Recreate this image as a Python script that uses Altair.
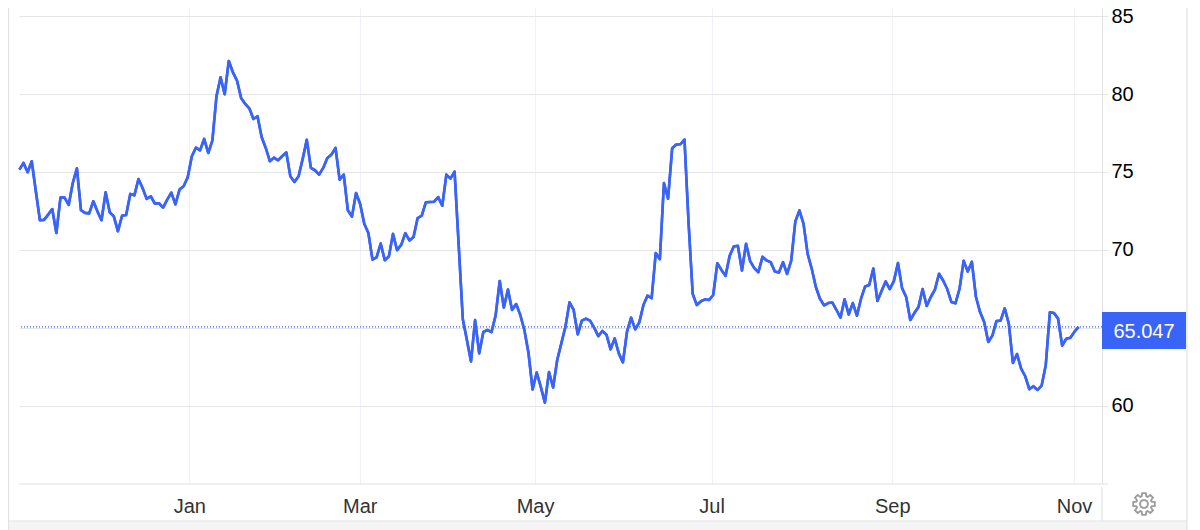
import json
import math
import altair as alt
import pandas as pd

seg_a = [75.15,75.58,74.98,75.69,73.76,71.90,71.92,72.26,72.62,71.08,73.35,73.35,72.88,74.29,75.24,72.54,72.37,72.34,73.12,72.47,
71.90,73.69,72.41,72.15,71.19,72.19,72.24,73.59,73.50,74.55,73.97,73.27,73.44,72.97,72.99,72.71,73.22,73.67,72.92,73.87,
74.08,74.66,76.01,76.56,76.39,77.12,76.22,77.01,79.86,81.08,79.99,82.13,81.40,80.87,79.75,79.37,79.09,78.40,78.58,77.25,
76.54,75.69,75.92,75.75,76.01,76.26,74.72,74.36,74.72,75.84,77.06,75.26,75.11,74.83,75.26,75.90,76.11,76.54,74.51,74.83,
72.54,72.13,73.65,72.94,71.68,71.08,69.37,69.52,70.40,69.33,69.58,71.02,69.97]
seg_b = [70.32,71.07,70.60,70.82,72.04,72.19,73.05,73.07,73.09,73.39,72.83,74.83,74.57,75.02,70.32,65.56,64.21,62.83,65.49,63.35,
64.72,64.85,64.72,65.79,68.00,66.29,67.45,66.14,66.52,65.82,64.85,63.39,61.03,62.12,61.20,60.19,62.15,61.16,62.92,63.99,
65.06,66.63,66.14,64.57,65.45,65.58,65.45,65.00,64.46,64.79,64.55,63.61,64.31,63.35,62.77,64.74,65.64,64.89,65.34,66.46,
67.06,66.89,69.79,69.40,74.29,73.28,76.52,76.76,76.78,77.08,71.72,67.17,66.46,66.70,66.82,66.78,67.10,69.14,68.71,68.33,
69.61,70.21,70.26,68.67,70.39,69.27,68.82,68.56,69.55,69.31,69.21,68.61,68.54,69.21,68.45,69.31,71.82,72.53]
seg_c = [71.67,69.74,68.78,67.61,66.86,66.43,66.58,66.62,66.15,65.64,66.82,65.85,66.58,65.77,66.86,67.65,67.74,68.80,66.71,67.35,
67.97,67.48,67.99,69.15,67.54,66.97,65.49,65.94,66.32,67.48,66.39,66.97,67.44,68.46,68.03,67.48,66.65,66.56,67.50,69.29,
68.61,69.23,66.97,66.00,65.36,64.08,64.49,65.43,65.45,66.24,65.26,62.74,63.31,62.37,61.88,61.05,61.24,61.00,61.28,62.59,
65.98,65.94,65.58,63.85,64.29,64.36,64.74,65.047]
values = seg_a + seg_b + seg_c
month_ticks = [41.4, 82.9, 125.6, 168.6, 212.6, 256.9]
month_names = ["Jan", "Mar", "May", "Jul", "Sep", "Nov"]
y_ticks = [60, 65, 70, 75, 80, 85]
last_label = "65.047"

BLUE = "#3a63f7"
GRID = "#e6e6e6"
FRAME = "#e2e2e2"
FONT = "Liberation Sans"

df = pd.DataFrame({"i": list(range(len(values))), "v": values})
one = pd.DataFrame({"a": [0]})

# gear icon outline in unit coordinates
pts = []
teeth = 8
for k in range(teeth):
    a = 2 * math.pi * k / teeth
    for da, r in [(-0.30, 0.72), (-0.17, 1.0), (0.17, 1.0), (0.30, 0.72)]:
        pts.append((r * math.cos(a + da), r * math.sin(a + da)))
gear = "M" + "L".join(f"{x:.3f},{y:.3f}" for x, y in pts) + "Z"
circ = [(0.36 * math.cos(2 * math.pi * k / 24), 0.36 * math.sin(2 * math.pi * k / 24)) for k in range(24)]
gear += "M" + "L".join(f"{x:.3f},{y:.3f}" for x, y in circ) + "Z"

x_scale = alt.Scale(domain=[-0.1, 263.7], nice=False, zero=False)
y_scale = alt.Scale(domain=[54.96, 85.53], nice=False, zero=False)
label_expr = f"{json.dumps(month_names)}[indexof({json.dumps(month_ticks)}, datum.value)]"

x_axis = alt.Axis(values=month_ticks, labelExpr=label_expr, title=None, grid=True, gridColor="#eef2f8", gridWidth=1,
                  domain=False, ticks=False, labelFont=FONT, labelFontSize=20, labelColor="#333333",
                  labelPadding=12, labelFlush=False, labelOverlap=False)
y_axis = alt.Axis(values=y_ticks, orient="right", title=None, grid=True, gridColor=GRID, gridWidth=1.2,
                  domain=True, domainColor=FRAME, ticks=True, tickColor=GRID, tickSize=6,
                  labelFont=FONT, labelFontSize=20, labelColor="#000000", labelPadding=3, labelOverlap=False,
                  labelExpr="datum.value == 65 ? '' : datum.label", format="d")

base = alt.Chart(df).mark_line(color=BLUE, strokeWidth=2.6, strokeJoin="round").encode(
    x=alt.X("i:Q", scale=x_scale, axis=x_axis),
    y=alt.Y("v:Q", scale=y_scale, axis=y_axis),
)
last_line = alt.Chart(pd.DataFrame({"v": [values[-1]]})).mark_rule(color=BLUE, strokeDash=[1, 2], strokeWidth=1.2).encode(
    y=alt.Y("v:Q", scale=y_scale)
)

def hline(x0, x1, y, color=FRAME, w=1.2):
    return alt.Chart(one).mark_rule(color=color, strokeWidth=w).encode(
        x=alt.value(x0), x2=alt.value(x1), y=alt.value(y))

def vline(x, y0, y1, color=FRAME, w=1.2):
    return alt.Chart(one).mark_rule(color=color, strokeWidth=w).encode(
        x=alt.value(x), y=alt.value(y0), y2=alt.value(y1))

strip = alt.Chart(one).mark_rect(color="#f4f4f4").encode(
    x=alt.value(-11), x2=alt.value(1168), y=alt.value(513.5), y2=alt.value(522))
label_box = alt.Chart(one).mark_rect(color=BLUE).encode(
    x=alt.value(1083), x2=alt.value(1167), y=alt.value(304), y2=alt.value(341))
label_text = alt.Chart(pd.DataFrame({"t": [last_label]})).mark_text(
    color="white", font=FONT, fontSize=20, align="center", baseline="middle").encode(
    x=alt.value(1125), y=alt.value(323.5), text="t:N")
gear_mark = alt.Chart(one).mark_point(shape=gear, size=480, filled=False, stroke="#717171", strokeWidth=1.8).encode(
    x=alt.value(1125), y=alt.value(496))

chart = alt.layer(
    base,
    strip,
    vline(-10.5, 0, 522),
    vline(1168, 0, 522),
    hline(-11, 1168, 513),
    vline(1083, 479, 513),
    hline(0, 1089, 476),
    last_line,
    base,
    label_box,
    label_text,
    gear_mark,
).resolve_scale(x="shared", y="shared").properties(
    width=1083, height=476, background="white",
    padding={"left": 11, "top": 0, "right": 86, "bottom": 46},
    autosize=alt.AutoSizeParams(type="none", contains="content"),
).configure_view(stroke=None)

chart.save("out.html", embed_options={"renderer": "svg", "actions": False})
